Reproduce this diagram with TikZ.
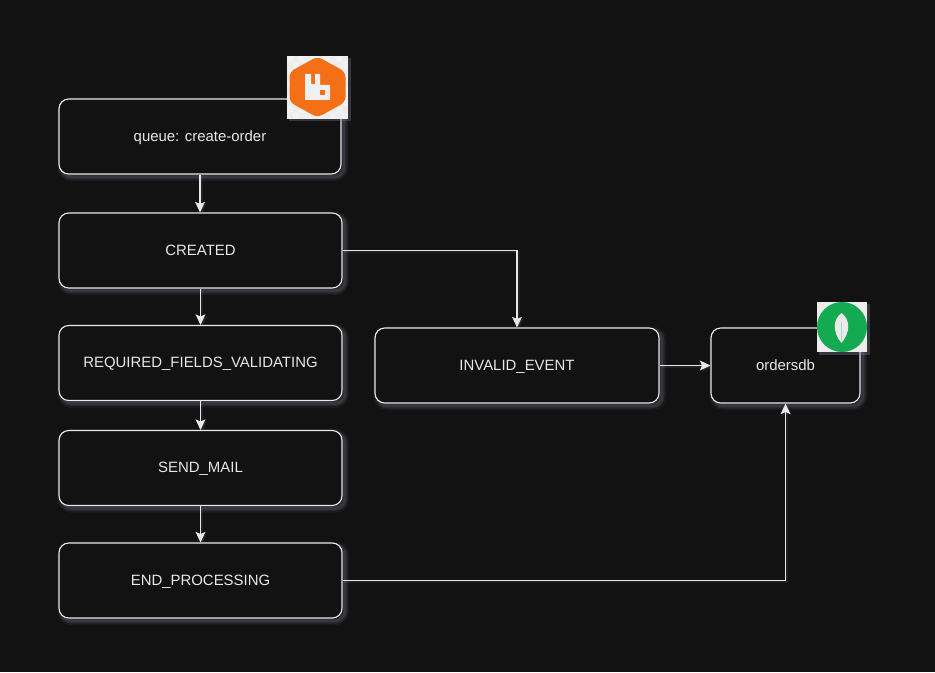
\documentclass[tikz,border=0pt]{standalone}
\usepackage{fontspec}
\setmainfont{Liberation Sans}
\usetikzlibrary{arrows.meta}
\definecolor{canvasbg}{HTML}{121212}
\definecolor{strokecol}{HTML}{E8E8E8}
\definecolor{glowcol}{HTML}{8A8AA8}
\definecolor{rabbitorange}{HTML}{F56F17}
\definecolor{mongogreen}{HTML}{13AA52}
\tikzset{
    softglow/.style={
        preaction={draw=glowcol, opacity=.08, line width=5pt, transform canvas={shift={(1.6pt,-1.6pt)}}},
        preaction={draw=glowcol, opacity=.12, line width=3.2pt, transform canvas={shift={(1.6pt,-1.6pt)}}},
        preaction={draw=glowcol, opacity=.16, line width=1.5pt, transform canvas={shift={(1.6pt,-1.6pt)}}}
    },
    statebox/.style={draw=strokecol, fill=canvasbg, text=strokecol, line width=.65pt, rounded corners=5.5pt,
        inner sep=0pt, minimum height=1.5cm, text height=6.8pt, text depth=1.2pt,
        font=\fontsize{8.5}{10}\selectfont, softglow},
    flow/.style={draw=strokecol, line width=.65pt, -{Stealth[length=6pt,width=5.6pt,inset=1.2pt]},
        preaction={draw=glowcol, opacity=.12, line width=1.2pt, transform canvas={shift={(1pt,-1pt)}}}}
}
\begin{document}
\begin{tikzpicture}[x=0.02cm, y=-0.02cm]
    % Canvas
    \fill[canvasbg] (0,0) rectangle (935,672);
    \useasboundingbox (0,0) rectangle (935,672);

    % The states
    \node[statebox, minimum width=5.64cm] (queue) at (200,136.5) {queue: create-order};
    \node[statebox, minimum width=5.66cm] (created) at (200.5,250.5) {CREATED};
    \node[statebox, minimum width=5.66cm] (validating) at (200.5,363) {REQUIRED\_FIELDS\_VALIDATING};
    \node[statebox, minimum width=5.66cm] (sendmail) at (200.5,468) {SEND\_MAIL};
    \node[statebox, minimum width=5.66cm] (endproc) at (200.5,580.5) {END\_PROCESSING};
    \node[statebox, minimum width=5.68cm] (invalid) at (517,365.5) {INVALID\_EVENT};
    \node[statebox, minimum width=2.98cm] (ordersdb) at (785.5,365.5) {ordersdb};

    % The connectors
    \draw[flow] (queue.south) -- (queue.south |- created.north);
    \draw[flow] (created) -- (validating);
    \draw[flow] (validating) -- (sendmail);
    \draw[flow] (sendmail) -- (endproc);
    \draw[flow] (created.east) -| (invalid.north);
    \draw[flow] (invalid) -- (ordersdb);
    \draw[flow] (endproc.east) -| (ordersdb.south);

    % The queue icon
    \fill[glowcol, opacity=.3] (289,58) rectangle (351,121);
    \fill[white!93!black] (287,56) rectangle (348,119);
    \foreach \i in {0,...,9} {
        \foreach \j in {0,...,9} {
            \pgfmathparse{int(mod(\i+\j,2))}
            \ifnum\pgfmathresult=0
                \fill[white!95!black] (287+6.1*\i,56+6.3*\j) rectangle ++(6.1,6.3);
            \fi
        }
    }
    \fill[rabbitorange, rounded corners=3pt] (317.5,56.5) -- (345.5,72) -- (345.5,102) -- (317.5,117.5) -- (289.5,102) -- (289.5,72) -- cycle;
    \fill[white!94!black] (305,74) -- (311,74) -- (311,84) -- (315,84) -- (315,74) -- (320,74) -- (320,85) -- (330,85) -- (330,100) -- (305,100) -- cycle;
    \fill[rabbitorange] (320,90.5) rectangle (324.5,95);

    % The database icon
    \fill[glowcol, opacity=.3] (819,304) rectangle (870,355);
    \fill[white!93!black] (817,302) rectangle (867,352);
    \fill[mongogreen] (842,327) circle (25);
    \fill[white!92!black] (841.5,313) .. controls (832,320) and (833,333) .. (841.5,343) .. controls (850,333) and (851,320) .. (841.5,313) -- cycle;
    \draw[mongogreen!40!white, line width=.4pt] (841.5,322) -- (841.5,340);
\end{tikzpicture}
\end{document}
